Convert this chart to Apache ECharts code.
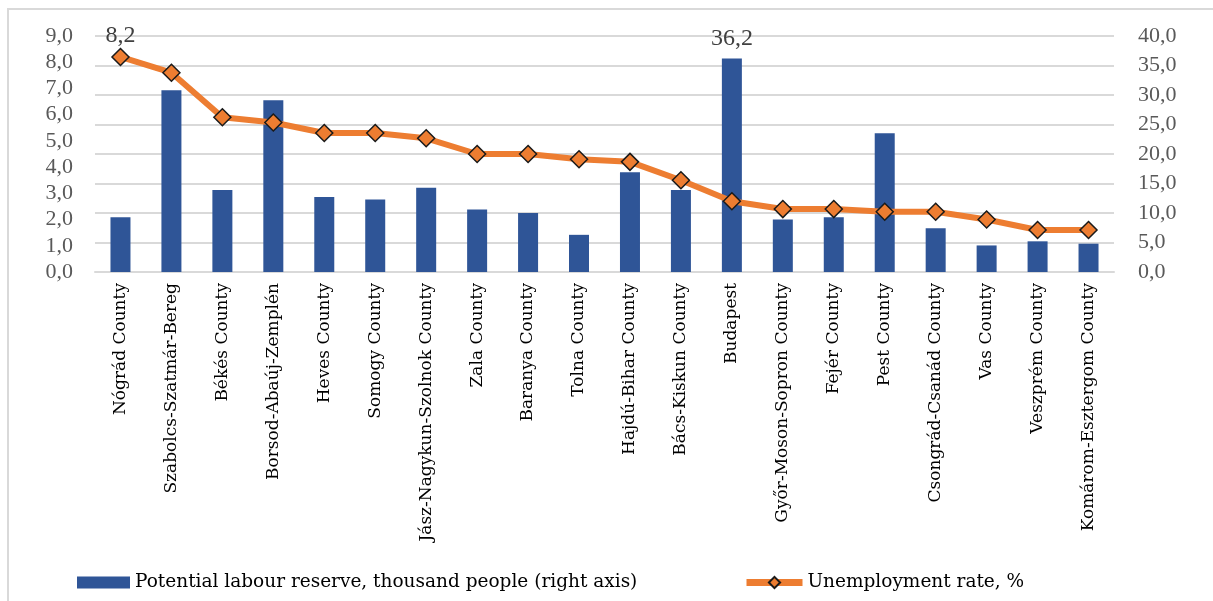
<!DOCTYPE html>
<html>
<head>
<meta charset="utf-8">
<script src="https://cdn.jsdelivr.net/npm/echarts@6/dist/echarts.min.js"></script>
<style>
  html, body { margin: 0; padding: 0; background: #fff; }
  #chart { width: 1213px; height: 601px; }
</style>
</head>
<body>
<div id="chart"></div>
<script>
// Counties (labels as printed under the axis)
const categories = [
  'Nógrád County', 'Szabolcs-Szatmár-Bereg', 'Békés County', 'Borsod-Abaúj-Zemplén',
  'Heves County', 'Somogy County', 'Jász-Nagykun-Szolnok County', 'Zala County',
  'Baranya County', 'Tolna County', 'Hajdú-Bihar County', 'Bács-Kiskun County',
  'Budapest', 'Győr-Moson-Sopron County', 'Fejér County', 'Pest County',
  'Csongrád-Csanád County', 'Vas County', 'Veszprém County', 'Komárom-Esztergom County'
];

// Potential labour reserve, thousand people (right axis)
const labourReserve = [
  9.3, 30.8, 13.9, 29.1, 12.7, 12.3, 14.3, 10.6, 10.0, 6.3,
  16.9, 13.9, 36.2, 8.9, 9.3, 23.5, 7.4, 4.5, 5.2, 4.8
];

// Unemployment rate, % (left axis)
const unemploymentRate = [
  8.2, 7.6, 5.9, 5.7, 5.3, 5.3, 5.1, 4.5, 4.5, 4.3,
  4.2, 3.5, 2.7, 2.4, 2.4, 2.3, 2.3, 2.0, 1.6, 1.6
];

// Which points carry a value label
const labelledBar = 'Budapest';
const labelledPoint = 'Nógrád County';

const seriesNames = ['Potential labour reserve, thousand people (right axis)', 'Unemployment rate, %'];

const NUM_FONT = '"Liberation Serif", "DejaVu Serif", serif';
const TEXT_FONT = '"DejaVu Serif", "Liberation Serif", serif';
const fmt = v => Number(v).toFixed(1).replace('.', ',');

const chart = echarts.init(document.getElementById('chart'), null, { renderer: 'canvas' });

const barData = labourReserve.map((v, i) => categories[i] === labelledBar
  ? { value: v, label: { show: true } } : v);
const lineData = unemploymentRate.map((v, i) => categories[i] === labelledPoint
  ? { value: v, label: { show: true } } : v);

chart.setOption({
  backgroundColor: '#ffffff',
  animation: false,
  textStyle: { fontFamily: NUM_FONT },
  graphic: [{
    type: 'rect',
    shape: { x: 8, y: 9, width: 1230, height: 620 },
    style: { fill: 'none', stroke: '#d9d9d9', lineWidth: 2 },
    silent: true
  }],
  grid: { left: 95, right: 99, top: 36, bottom: 329, containLabel: false },
  legend: [{
    data: [{ name: seriesNames[0], icon: 'rect' }],
    left: 72, top: 568,
    itemWidth: 53, itemHeight: 12, itemGap: 0,
    textStyle: { fontFamily: TEXT_FONT, fontSize: 18.5, color: '#000' }
  }, {
    data: [seriesNames[1]],
    left: 738, top: 568,
    itemWidth: 56, itemHeight: 14, itemGap: 0,
    lineStyle: { width: 7 },
    textStyle: { fontFamily: TEXT_FONT, fontSize: 18.5, color: '#000' }
  }],
  xAxis: {
    type: 'category',
    data: categories,
    axisTick: { show: false },
    axisLine: { lineStyle: { color: '#d9d9d9', width: 2 } },
    axisLabel: {
      rotate: 90, interval: 0, margin: 11,
      fontFamily: TEXT_FONT, fontSize: 17, color: '#000'
    }
  },
  yAxis: [{
    type: 'value', min: 0, max: 9, interval: 1,
    position: 'left',
    splitLine: { show: false },
    axisLine: { show: false }, axisTick: { show: false },
    axisLabel: { formatter: fmt, fontFamily: NUM_FONT, fontSize: 22, color: '#595959', margin: 22 }
  }, {
    type: 'value', min: 0, max: 40, interval: 5,
    position: 'right',
    splitLine: { lineStyle: { color: '#d9d9d9', width: 2 } },
    axisLine: { show: false }, axisTick: { show: false },
    axisLabel: { formatter: fmt, fontFamily: NUM_FONT, fontSize: 22, color: '#595959', margin: 24 }
  }],
  series: [{
    name: seriesNames[0],
    type: 'bar',
    yAxisIndex: 1,
    data: barData,
    barWidth: 20,
    itemStyle: { color: '#2f5597' },
    label: {
      show: false, position: 'top', distance: 8,
      formatter: p => fmt(p.value),
      fontFamily: NUM_FONT, fontSize: 24, color: '#404040'
    },
    z: 2
  }, {
    name: seriesNames[1],
    type: 'line',
    yAxisIndex: 0,
    data: lineData,
    symbol: 'diamond',
    symbolSize: 17,
    lineStyle: { color: '#ed7d31', width: 6 },
    itemStyle: { color: '#ed7d31', borderColor: '#1a1a1a', borderWidth: 1.5 },
    label: {
      show: false, position: 'top', distance: 0,
      formatter: p => fmt(p.value),
      fontFamily: NUM_FONT, fontSize: 24, color: '#404040'
    },
    z: 3
  }]
});
</script>
</body>
</html>
